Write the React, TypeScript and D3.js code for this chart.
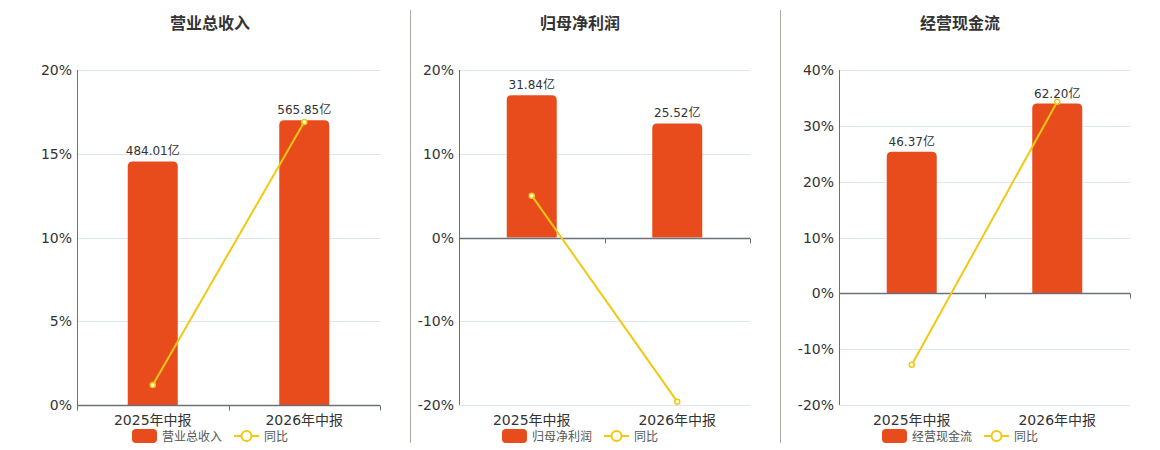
import { useRef, useLayoutEffect } from "react";
import * as d3 from "d3";

const categories = ["2025年中报", "2026年中报"];
const titles = ["营业总收入", "归母净利润", "经营现金流"];
const lineName = "同比";

const revenue = [484.01, 565.85];
const netProfit = [31.84, 25.52];
const cashFlow = [46.37, 62.2];

const revenueYoy = [1.2, 16.9];
const netProfitYoy = [5.0, -19.6];
const cashFlowYoy = [-12.8, 34.3];

const revenueTicks = [0, 5, 10, 15, 20];
const netProfitTicks = [-20, -10, 0, 10, 20];
const cashFlowTicks = [-20, -10, 0, 10, 20, 30, 40];

const panels = [
  { title: titles[0], bars: revenue, yoy: revenueYoy, ticks: revenueTicks, left: 77, right: 380, center: 210 },
  { title: titles[1], bars: netProfit, yoy: netProfitYoy, ticks: netProfitTicks, left: 459, right: 750, center: 580 },
  { title: titles[2], bars: cashFlow, yoy: cashFlowYoy, ticks: cashFlowTicks, left: 839, right: 1130, center: 960 },
];

const W = 1160;
const H = 450;
const TOP = 70;
const BOTTOM = 405;
const BAR = "#e84c1c";
const LINE = "#f2c811";
const FONT = "'DejaVu Sans', 'Noto Sans CJK SC', sans-serif";

// bar with rounded top corners only
const barPath = (x: number, y: number, w: number, h: number, r: number) => {
  const rr = Math.min(r, h, w / 2);
  return `M${x},${y + h}V${y + rr}Q${x},${y} ${x + rr},${y}H${x + w - rr}Q${x + w},${y} ${x + w},${y + rr}V${y + h}Z`;
};

export default function App() {
  const svgRef = useRef<SVGSVGElement | null>(null);

  useLayoutEffect(() => {
    if (!svgRef.current) return;
    const svg = d3.select(svgRef.current);
    svg.selectAll("*").remove();
    svg.attr("width", W).attr("height", H).style("font-family", FONT);

    // separators between panels
    [410.5, 780.5].forEach((x) => {
      svg.append("line").attr("x1", x).attr("x2", x).attr("y1", 10).attr("y2", 443)
        .attr("stroke", "#aaaaa2").attr("stroke-width", 1);
    });

    panels.forEach((p) => {
      const g = svg.append("g");
      const domain = d3.extent(p.ticks) as [number, number];
      const y = d3.scaleLinear().domain(domain).range([BOTTOM, TOP]);
      const x = d3.scaleBand<string>().domain(categories).range([p.left, p.right]);
      const zeroY = y(0);
      const yBar = d3.scaleLinear().domain([0, d3.max(p.bars)! / 0.85]).range([zeroY, TOP]);

      // title
      g.append("text").attr("x", p.center).attr("y", 29).attr("text-anchor", "middle")
        .attr("font-size", 16).attr("font-weight", "bold").attr("fill", "#333").text(p.title);

      // grid
      g.selectAll(".grid").data(p.ticks.filter((t) => t !== 0)).enter().append("line")
        .attr("x1", p.left).attr("x2", p.right)
        .attr("y1", (d) => Math.round(y(d)) + 0.5).attr("y2", (d) => Math.round(y(d)) + 0.5)
        .attr("stroke", "#e0e6f1");

      // y labels
      g.selectAll(".ylab").data(p.ticks).enter().append("text")
        .attr("x", p.left - 5).attr("y", (d) => y(d) + 5).attr("text-anchor", "end")
        .attr("font-size", 14).attr("fill", "#333").text((d) => `${d}%`);

      // y axis line
      g.append("line").attr("x1", p.left + 0.5).attr("x2", p.left + 0.5).attr("y1", TOP).attr("y2", BOTTOM)
        .attr("stroke", "#6e7079");

      // bars
      g.selectAll(".bar").data(p.bars).enter().append("path")
        .attr("d", (d, i) => {
          const bx = x(categories[i])! + x.bandwidth() / 2 - 25;
          const top = yBar(d);
          return barPath(bx, top, 50, zeroY - top, 5);
        })
        .attr("fill", BAR);

      g.selectAll(".blab").data(p.bars).enter().append("text")
        .attr("x", (_, i) => x(categories[i])! + x.bandwidth() / 2)
        .attr("y", (d) => yBar(d) - 6).attr("text-anchor", "middle")
        .attr("font-size", 12).attr("fill", "#333").text((d) => `${d.toFixed(2)}亿`);

      // x axis at zero
      const zy = Math.round(zeroY) + 0.5;
      g.append("line").attr("x1", p.left).attr("x2", p.right).attr("y1", zy).attr("y2", zy)
        .attr("stroke", "#6e7079").attr("stroke-width", 1.5);
      g.selectAll(".xtick").data([...categories.map((c) => x(c)!), p.right]).enter().append("line")
        .attr("x1", (d) => Math.round(d) + 0.5).attr("x2", (d) => Math.round(d) + 0.5)
        .attr("y1", zy).attr("y2", zy + 5).attr("stroke", "#6e7079");

      g.selectAll(".xlab").data(categories).enter().append("text")
        .attr("x", (d) => x(d)! + x.bandwidth() / 2).attr("y", 425).attr("text-anchor", "middle")
        .attr("font-size", 14).attr("fill", "#333").text((d) => d);

      // yoy line
      const line = d3.line<number>()
        .x((_, i) => x(categories[i])! + x.bandwidth() / 2)
        .y((d) => y(d));
      g.append("path").datum(p.yoy).attr("d", line).attr("fill", "none")
        .attr("stroke", LINE).attr("stroke-width", 2);
      g.selectAll(".pt").data(p.yoy).enter().append("circle")
        .attr("cx", (_, i) => x(categories[i])! + x.bandwidth() / 2).attr("cy", (d) => y(d))
        .attr("r", 2.5).attr("fill", "#fff").attr("stroke", LINE).attr("stroke-width", 1.5);

      // legend
      const nameW = p.title.length * 12;
      const total = 25 + 5 + nameW + 12 + 25 + 5 + lineName.length * 12;
      const lx = p.center - total / 2;
      const ly = 436;
      const lg = g.append("g");
      lg.append("rect").attr("x", lx).attr("y", ly - 7).attr("width", 25).attr("height", 14)
        .attr("rx", 4).attr("fill", BAR);
      lg.append("text").attr("x", lx + 30).attr("y", ly + 4.5).attr("font-size", 12).attr("fill", "#555")
        .text(p.title);
      const l2 = lx + 30 + nameW + 12;
      lg.append("line").attr("x1", l2).attr("x2", l2 + 25).attr("y1", ly).attr("y2", ly)
        .attr("stroke", LINE).attr("stroke-width", 2);
      lg.append("circle").attr("cx", l2 + 12.5).attr("cy", ly).attr("r", 5)
        .attr("fill", "#fff").attr("stroke", LINE).attr("stroke-width", 2);
      lg.append("text").attr("x", l2 + 30).attr("y", ly + 4.5).attr("font-size", 12).attr("fill", "#555")
        .text(lineName);
    });
  }, []);

  return <svg ref={svgRef} style={{ position: "absolute", left: 0, top: 0, display: "block" }} />;
}
